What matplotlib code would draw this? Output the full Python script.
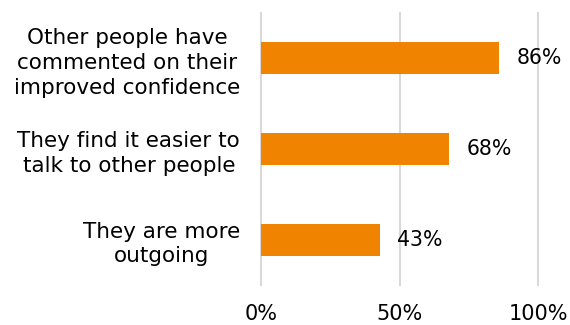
import matplotlib
matplotlib.use("Agg")
import matplotlib.pyplot as plt
import numpy as np

# Survey answers, listed top to bottom
labels = ["Other people have\ncommented on their\nimproved confidence",
          "They find it easier to\ntalk to other people",
          "They are more\noutgoing"]
values = [86, 68, 43]
ticks = [0, 50, 100]
tick_labels = ["0%", "50%", "100%"]

plt.rcParams['font.family'] = ['DejaVu Sans']

fig = plt.figure(figsize=(5.7, 3.25), dpi=100)
ax = fig.add_axes([0.458, 0.123, 0.486, 0.837])

pos = np.arange(len(values))[::-1]
ax.barh(pos, values, height=0.35, color="#F08300", zorder=3)

for p, v in zip(pos, values):
    ax.text(v + 6.2, p, f"{v}%", va="center", ha="left", fontsize=14.8)

ax.set_xlim(0, 100)
ax.set_ylim(-0.5, 2.5)
ax.set_xticks(ticks)
ax.set_xticklabels(tick_labels, fontsize=15)
ax.set_yticks(pos)
ax.set_yticklabels(labels, fontsize=15.5, multialignment="center",
                   linespacing=1.3)
ax.tick_params(axis="both", length=0)
ax.tick_params(axis="y", pad=15)
ax.tick_params(axis="x", pad=14)

ax.grid(axis="x", color="#d9d9d9", linewidth=1.5, zorder=0)
# keep the edge gridlines at full width
for line in ax.get_xgridlines():
    line.set_clip_on(False)
for s in ax.spines.values():
    s.set_visible(False)

fig.savefig("out.png", dpi=100)
